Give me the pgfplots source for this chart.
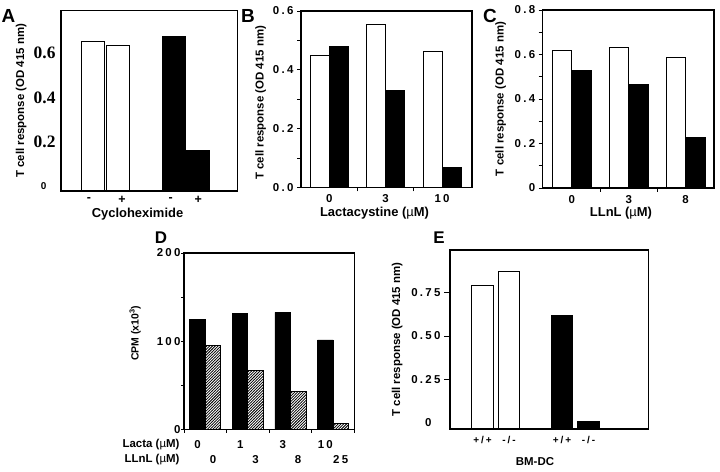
\documentclass[border=0pt]{standalone}
\usepackage{fontspec}
\setmainfont{Liberation Sans}
\newfontfamily\serifb{Liberation Serif}
\newfontfamily\spc{Liberation Sans}[LetterSpace=20]
\usepackage{pgfplots}
\pgfplotsset{compat=1.18}
\usetikzlibrary{patterns}
\newcommand\fs[1]{\fontsize{#1}{#1}\selectfont}
\pgfdeclarepatternformonly{hatch}{\pgfqpoint{-1pt}{-1pt}}{\pgfqpoint{4pt}{4pt}}{\pgfqpoint{2.8pt}{2.8pt}}%
{\pgfsetlinewidth{0.75pt}\pgfpathmoveto{\pgfqpoint{0pt}{0pt}}\pgfpathlineto{\pgfqpoint{3.1pt}{3.1pt}}\pgfusepath{stroke}}
\pgfplotsset{
  panel/.style={scale only axis, anchor=south west, clip=false, axis on top,
    axis line style={line width=1.1bp},
    every tick/.style={black, line width=0.8bp},
    major tick length=4bp, minor tick length=4bp,
    tick align=outside, tick pos=left,
    tick label style={font=\spc\bfseries\fs{11.5}},
    xticklabel style={anchor=center},
    label style={font=\bfseries\fs{11.5}},
    xlabel style={font=\bfseries\fs{13}},
  },
  wbar/.style={ybar, bar shift=0pt, draw=black, line width=0.8bp, fill=white},
  bbar/.style={ybar, bar shift=0pt, draw=black, line width=0.8bp, fill=black},
  wrect/.style={draw=black, line width=0.8bp, fill=white},
  brect/.style={draw=black, line width=0.8bp, fill=black},
}
\begin{document}
\begin{tikzpicture}
\path[use as bounding box] (0,0) rectangle (720bp,472bp);
% ---------------- A
\begin{axis}[panel, at={(61bp,281bp)}, width=176.7bp, height=180.3bp,
  xmin=-1.29, xmax=5.78, ymin=-0.0235, ymax=0.793,
  major tick length=0bp,
  ytick={0,0.2,0.4,0.6},
  yticklabels={{\rmfamily\bfseries\fs{10}0\hspace*{9bp}},0.2,0.4,0.6},
  yticklabel style={font=\serifb\bfseries\fs{17.5}, xshift=-2bp},
  xtick={-0.17,1.15,3.1,4.2}, xticklabels={-,+,-,+},
  xticklabel style={font=\bfseries\fs{12.5}, yshift=-8.5bp},
  xlabel={Cycloheximide},
  xlabel style={at={(axis description cs:0.433,-0.13)}, anchor=center},
  ylabel={T cell response (OD 415 nm)},
  ylabel style={at={(axis description cs:-0.226,0.5)}, anchor=center},
]
\addplot[wrect] coordinates {(-0.46,-0.0235) (-0.46,0.654) (0.46,0.654) (0.46,-0.0235)} -- cycle;
\addplot[wrect] coordinates {(0.54,-0.0235) (0.54,0.636) (1.46,0.636) (1.46,-0.0235)} -- cycle;
\addplot[brect] coordinates {(2.75,-0.0235) (2.75,0.678) (3.67,0.678) (3.67,-0.0235)} -- cycle;
\addplot[brect] coordinates {(3.74,-0.0235) (3.74,0.162) (4.66,0.162) (4.66,-0.0235)} -- cycle;
\end{axis}
% ---------------- B
\begin{axis}[panel, at={(301bp,284.5bp)}, width=171bp, height=176.5bp,
  xmin=-0.5, xmax=2.53, ymin=0, ymax=0.6,
  ytick={0,0.2,0.4,0.6}, yticklabels={0.0,0.2,0.4,0.6},
  minor ytick={0.1,0.3,0.5},
  xtick={0,1,2}, xticklabels={0,3,10}, major x tick style={draw=none},
  minor xtick={0.5,1.5},
  xticklabel style={yshift=-7.5bp},
  xlabel={Lactacystine ({\mdseries µ}M)},
  xlabel style={at={(axis description cs:0.43,-0.1445)}, anchor=center},
  ylabel={T cell response (OD 415 nm)},
  ylabel style={at={(axis description cs:-0.236,0.48)}, anchor=center},
]
\addplot[wbar, bar width=19bp, bar shift=-9.5bp] coordinates {(0,0.450) (1,0.556) (2,0.461)};
\addplot[bbar, bar width=19bp, bar shift=9.5bp] coordinates {(0,0.478) (1,0.329) (2,0.068)};
\end{axis}
% ---------------- C
\begin{axis}[panel, at={(542.7bp,284bp)}, width=171.3bp, height=178bp,
  xmin=-0.509, xmax=2.497, ymin=0, ymax=0.8,
  ytick={0,0.2,0.4,0.6,0.8}, yticklabels={0,0.2,0.4,0.6,0.8},
  minor ytick={0.1,0.3,0.5,0.7},
  xtick={0,1,2}, xticklabels={0,3,8}, major x tick style={draw=none},
  minor xtick={0.5,1.5},
  xticklabel style={yshift=-8bp},
  xlabel={LLnL ({\mdseries µ}M)},
  xlabel style={at={(axis description cs:0.457,-0.14)}, anchor=center},
  ylabel={T cell response (OD 415 nm)},
  ylabel style={at={(axis description cs:-0.245,0.5)}, anchor=center},
]
\addplot[wbar, bar width=19.3bp, bar shift=-9.65bp] coordinates {(0,0.619) (1,0.630) (2,0.588)};
\addplot[bbar, bar width=19.3bp, bar shift=9.65bp] coordinates {(0,0.527) (1,0.464) (2,0.227)};
\end{axis}
% ---------------- D
\begin{axis}[panel, at={(184bp,42.5bp)}, width=170.3bp, height=176.5bp,
  xmin=-0.5, xmax=3.5, ymin=0, ymax=200,
  ytick={0,100,200}, minor ytick={50,150},
  yticklabels={0,100,200}, yticklabel style={xshift=3bp},
  major tick length=3bp, minor tick length=3bp,
  xtick={-0.18,0.82,1.82,2.82}, xticklabels={0,1,3,10}, major x tick style={draw=none},
  minor xtick={-0.5,0.5,1.5,2.5,3.5},
  xticklabel style={yshift=-11.8bp},
  extra x ticks={0.18,1.18,2.18,3.18}, extra x tick labels={0,3,8,25},
  extra x tick style={xticklabel style={yshift=-15bp}},
  ylabel={CPM (x10\textsuperscript{3})},
  ylabel style={font=\bfseries\fs{10.5}, at={(axis description cs:-0.287,0.545)}, anchor=center},
]
\addplot[bbar, bar width=15.5bp, bar shift=-7.75bp] coordinates {(0,124.9) (1,131.7) (2,132.8) (3,101.5)};
\addplot[ybar, bar width=15.5bp, bar shift=7.75bp, draw=black, line width=0.8bp, fill=white,
  postaction={pattern=hatch}] coordinates {(0,95.5) (1,67.2) (2,43.0) (3,6.8)};
\end{axis}
\node[anchor=east, font=\bfseries\fs{11.5}] at (183bp,27.7bp) {Lacta ({\mdseries µ}M)};
\node[anchor=east, font=\bfseries\fs{11.5}] at (183bp,12.7bp) {LLnL ({\mdseries µ}M)};
% ---------------- E
\begin{axis}[panel, at={(450bp,43bp)}, width=198.3bp, height=179bp,
  xmin=-1.23, xmax=6.26, ymin=-0.037, ymax=0.996,
  major tick length=6bp,
  ytick={0.25,0.5,0.75}, yticklabels={0.25,0.50,0.75},
  extra y ticks={0}, extra y tick labels={0\hspace*{9bp}}, extra y tick style={tick style={draw=none}},
  xtick={0,1,3,4}, xticklabels={+/+,-/-,+/+,-/-}, major x tick style={draw=none},
  xticklabel style={font=\spc\bfseries\fs{10}, yshift=-5bp},
  ylabel={T cell response (OD 415 nm)},
  ylabel style={at={(axis description cs:-0.267,0.5)}, anchor=center},
]
\addplot[wrect] coordinates {(-0.4075,-0.037) (-0.4075,0.794) (0.4075,0.794) (0.4075,-0.037)} -- cycle;
\addplot[wrect] coordinates {(0.5925,-0.037) (0.5925,0.871) (1.4075,0.871) (1.4075,-0.037)} -- cycle;
\addplot[brect] coordinates {(2.5925,-0.037) (2.5925,0.621) (3.4075,0.621) (3.4075,-0.037)} -- cycle;
\addplot[brect] coordinates {(3.5925,-0.037) (3.5925,0.005) (4.4075,0.005) (4.4075,-0.037)} -- cycle;
\end{axis}
\node[font=\bfseries\fs{11.5}] at (535bp,10bp) {BM-DC};
% panel letters
\node[font=\bfseries\fs{19}] at (8.5bp,456.5bp) {A};
\node[font=\bfseries\fs{19}] at (248bp,456.5bp) {B};
\node[font=\bfseries\fs{19}] at (490bp,456.5bp) {C};
\node[font=\bfseries\fs{17}] at (161bp,234.5bp) {D};
\node[font=\bfseries\fs{17}] at (439bp,234.5bp) {E};
\end{tikzpicture}
\end{document}
